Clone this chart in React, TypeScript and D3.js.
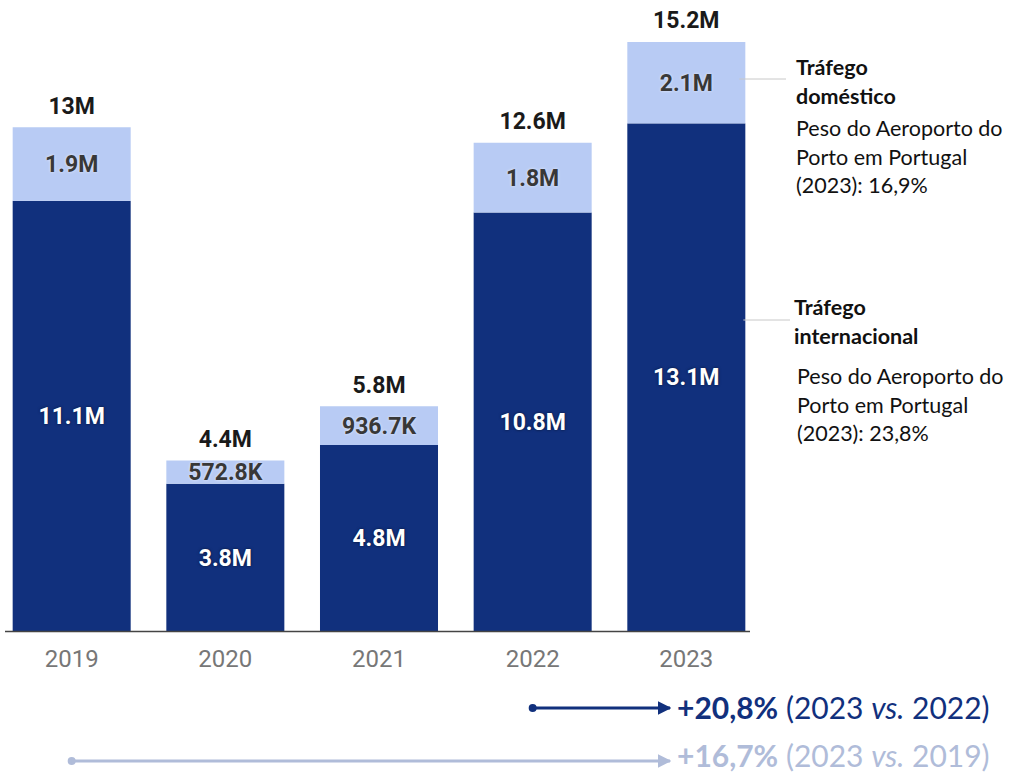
import * as d3 from 'd3';

const years = ['2019', '2020', '2021', '2022', '2023'];
const international = [11.1, 3.8, 4.8, 10.8, 13.1];
const domestic = [1.9, 0.5728, 0.9367, 1.8, 2.1];
const totals = [13, 4.4, 5.8, 12.6, 15.2];

const domesticNote = ['Tráfego', 'doméstico'];
const domesticShare = ['Peso do Aeroporto do', 'Porto em Portugal', '(2023): 16,9%'];
const intlNote = ['Tráfego', 'internacional'];
const intlShare = ['Peso do Aeroporto do', 'Porto em Portugal', '(2023): 23,8%'];

const growth = [
  { pct: '+20,8%', rest: ' (2023 ', vs: 'vs.', end: ' 2022)', from: '2022' },
  { pct: '+16,7%', rest: ' (2023 ', vs: 'vs.', end: ' 2019)', from: '2019' },
];

const DARK = '#11307d';
const LIGHT = '#b8cbf4';
const GROWTH_COLORS = [DARK, '#b0bcd9'];

const W = 1014;
const H = 775;
const BASE = 631;

const fmt = (v: number) => {
  if (v < 1) return `${(v * 1000).toFixed(1)}K`;
  return `${d3.format('~')(+v.toFixed(1))}M`;
};

export default function App() {
  const x = d3.scaleBand().domain(years).range([-5, 763]).paddingInner(0.232).paddingOuter(0.115);
  const y = d3.scaleLinear().domain([0, 15.2]).range([BASE, 42]);
  const bw = x.bandwidth();
  const last = years[years.length - 1];
  const xLast = (x(last) || 0);

  const labelFont = 'Roboto, sans-serif';
  const noteFont = 'Lato, sans-serif';

  return (
    <svg width={W} height={H} style={{ position: 'absolute', left: 0, top: 0 }}>
      <defs>
        <marker id="arrDark" viewBox="0 0 10 10" refX="9" refY="5" markerWidth="4.5" markerHeight="4.5" orient="auto">
          <path d="M0,0 L10,5 L0,10 z" fill={GROWTH_COLORS[0]} />
        </marker>
        <marker id="arrLight" viewBox="0 0 10 10" refX="9" refY="5" markerWidth="4.5" markerHeight="4.5" orient="auto">
          <path d="M0,0 L10,5 L0,10 z" fill={GROWTH_COLORS[1]} />
        </marker>
      </defs>

      {years.map((yr, i) => {
        const x0 = x(yr) || 0;
        const cx = x0 + bw / 2;
        const yIntl = y(international[i]);
        const yTop = y(totals[i]);
        return (
          <g key={yr}>
            <rect x={x0} y={yIntl} width={bw} height={BASE - yIntl} fill={DARK} />
            <rect x={x0} y={yTop} width={bw} height={yIntl - yTop} fill={LIGHT} />
            <text x={cx} y={(yIntl + BASE) / 2} dy="0.36em" textAnchor="middle" fill="#fff"
              fontFamily={labelFont} fontWeight={700} fontSize={23}
              style={{ textShadow: '0 0 3px rgba(0,0,0,0.6)' }}>{fmt(international[i])}</text>
            <text x={cx} y={(yTop + yIntl) / 2} dy="0.36em" textAnchor="middle" fill="#383838"
              fontFamily={labelFont} fontWeight={700} fontSize={23}
              style={{ textShadow: '0 0 3px rgba(255,255,255,0.7)' }}>{fmt(domestic[i])}</text>
            <text x={cx} y={yTop - 22} dy="0.36em" textAnchor="middle" fill="#1a1a1a"
              fontFamily={labelFont} fontWeight={700} fontSize={23}>{fmt(totals[i])}</text>
            <text x={cx} y={658} dy="0.36em" textAnchor="middle" fill="#777"
              fontFamily={labelFont} fontSize={24}>{yr}</text>
          </g>
        );
      })}

      <line x1={5} x2={750} y1={BASE + 0.5} y2={BASE + 0.5} stroke="#444" strokeWidth={1.5} />

      {/* leader lines */}
      <line x1={xLast + bw - 6} x2={786} y1={79} y2={79} stroke="#c8c8c8" strokeWidth={1} />
      <line x1={xLast + bw - 2} x2={790} y1={320} y2={320} stroke="#c8c8c8" strokeWidth={1} />

      <g fontFamily={noteFont} fontSize={21.5} fill="#111">
        {domesticNote.map((t, i) => (
          <text key={'dn' + i} x={796} y={75 + i * 29} fontWeight={700}>{t}</text>
        ))}
        {domesticShare.map((t, i) => (
          <text key={'ds' + i} x={796} y={136 + i * 28.5}>{t}</text>
        ))}
        {intlNote.map((t, i) => (
          <text key={'in' + i} x={794} y={315 + i * 29} fontWeight={700}>{t}</text>
        ))}
        {intlShare.map((t, i) => (
          <text key={'is' + i} x={797} y={384 + i * 28.5}>{t}</text>
        ))}
      </g>

      {growth.map((g, i) => {
        const yy = 708 + i * 53;
        const xStart = (x(g.from) || 0) + bw / 2;
        const col = GROWTH_COLORS[i];
        return (
          <g key={g.pct}>
            <circle cx={xStart} cy={yy} r={4} fill={col} />
            <line x1={xStart} x2={670} y1={yy} y2={yy} stroke={col} strokeWidth={3}
              markerEnd={`url(#${i === 0 ? 'arrDark' : 'arrLight'})`} />
            <text x={677} y={yy + (i === 0 ? 11 : 6)} fontFamily={noteFont} fontSize={30} fill={col}>
              <tspan fontWeight={700}>{g.pct}</tspan>
              <tspan>{g.rest}</tspan>
              <tspan fontStyle="italic">{g.vs}</tspan>
              <tspan>{g.end}</tspan>
            </text>
          </g>
        );
      })}
    </svg>
  );
}
